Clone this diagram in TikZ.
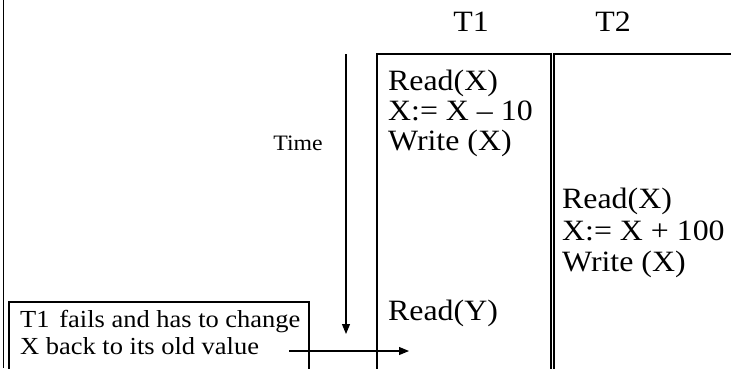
\documentclass[tikz,border=0pt]{standalone}
\usepackage{fontspec}
\setmainfont{Liberation Serif}[FakeStretch=1.08]
\usetikzlibrary{arrows.meta}
\tikzset{
  rule/.style={line width=1.1pt, black},
  body/.style={font=\fontsize{29.5}{32}\selectfont, inner sep=0pt, anchor=base west},
  head/.style={font=\fontsize{29.5}{32}\selectfont, inner sep=0pt, anchor=base},
  note/.style={font=\fontsize{24.5}{26}\selectfont, inner sep=0pt, anchor=base west},
  timelbl/.style={font=\fontsize{22}{24}\selectfont, inner sep=0pt, anchor=base},
  tip/.style={-{Triangle[length=10pt,width=8pt]}, line width=1.1pt}
}
\begin{document}
\begin{tikzpicture}[x=1pt,y=1pt]
  \useasboundingbox (0,0) rectangle (731,-368);
  \clip (0,0) rectangle (731,-368);

  % frame edge on the left
  \draw[rule] (3.5,0) -- (3.5,-368);

  % column headers
  \node[head] (h1) at (471,-31) {T1};
  \node[head] (h2) at (613,-31) {T2};

  % transaction columns
  \draw[rule] (377,-380) -- (377,-54) -- (551,-54) -- (551,-380);
  \draw[rule] (554,-380) -- (554,-54) -- (740,-54);

  % operations of T1
  \node[body] (t1a) at (388,-90)  {Read(X)};
  \node[body] (t1b) at (388,-120) {X:= X -- 10};
  \node[body] (t1c) at (388,-150) {Write (X)};
  \node[body] (t1d) at (388,-320) {Read(Y)};

  % operations of T2
  \node[body] (t2a) at (562,-208) {Read(X)};
  \node[body] (t2b) at (562,-240) {X:= X + 100};
  \node[body] (t2c) at (562,-271) {Write (X)};

  % time axis
  \node[timelbl] (time) at (298,-150) {Time};
  \coordinate (ttop) at (346,-54);
  \coordinate (tbot) at (346,-334);
  \draw[tip] (ttop) -- (tbot);

  % failure note
  \draw[rule] (9,-380) -- (9,-302) -- (309,-302) -- (309,-380);
  \node[note] (fail1) at (20,-327) {T1\hspace{0.4em}fails and has to change};
  \node[note] (fail2) at (20,-354) {X back to its old value};
  \coordinate (astart) at (289,-351);
  \coordinate (aend) at (409,-351);
  \draw[tip] (astart) -- (aend);
\end{tikzpicture}
\end{document}
